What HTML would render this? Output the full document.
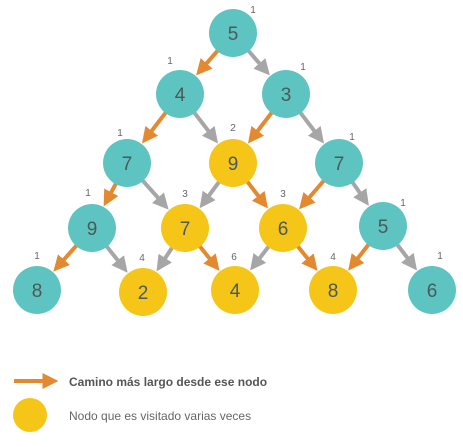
<!DOCTYPE html>
<html><head><meta charset="utf-8"><style>
body{margin:0;background:#fff;width:463px;height:442px;overflow:hidden;font-family:"Liberation Sans",sans-serif}
</style></head><body>
<svg id="c" width="463" height="442">
<defs>
<marker id="ao" markerWidth="4" markerHeight="4" refX="2.4" refY="2" orient="auto" markerUnits="strokeWidth"><path d="M0,0 L4,2 L0,4 z" fill="#e38a30"/></marker>
<marker id="ag" markerWidth="4" markerHeight="4" refX="2.4" refY="2" orient="auto" markerUnits="strokeWidth"><path d="M0,0 L4,2 L0,4 z" fill="#a6a6a6"/></marker>
</defs>
<g id="edges"></g><g id="nodes"></g>
<g>
<line x1="14" y1="381" x2="52" y2="381" stroke="#e38a30" stroke-width="4" marker-end="url(#ao)"/>
<text x="69" y="386" font-size="12" font-weight="bold" fill="#555">Camino más largo desde ese nodo</text>
<circle cx="30" cy="415" r="17" fill="#f5c518"/>
<text x="69" y="420" font-size="12" fill="#666">Nodo que es visitado varias veces</text>
</g>
</svg>
<script>
const values=[[5],[4,3],[7,9,7],[9,7,6,5],[8,2,4,8,6]];
const counts=[[1],[1,1],[1,2,1],[1,3,3,1],[1,4,6,4,1]];
const visited=[[0],[0,0],[0,1,0],[0,1,1,0],[0,1,1,1,0]];
const best=[[0],[0,0],[0,1,0],[0,1,1,0],[]];
const P=[[[233,33]],[[180,94],[286,94]],[[127,163],[233,163],[339,163]],[[92,228],[185,228],[283,228],[383,226]],[[37,290],[143,292],[235,290],[333,290],[432,290]]];
const L=[[[253,13]],[[170,64],[303,70]],[[120,136],[233,131],[352,140]],[[88,196],[185,197],[283,197],[403,206]],[[37,259],[142,261],[234,260],[333,260],[440,259]]];
const R=24,ns="http://www.w3.org/2000/svg";
const E=document.getElementById('edges'),N=document.getElementById('nodes');
for(let r=0;r<4;r++)for(let i=0;i<values[r].length;i++)for(let d=0;d<2;d++){
 const a=P[r][i],b=P[r+1][i+d];const dx=b[0]-a[0],dy=b[1]-a[1],l=Math.hypot(dx,dy);
 const o=best[r][i]===d;const ln=document.createElementNS(ns,'line');
 ln.setAttribute('x1',a[0]+dx/l*(R-2));ln.setAttribute('y1',a[1]+dy/l*(R-2));
 ln.setAttribute('x2',b[0]-dx/l*(R+7));ln.setAttribute('y2',b[1]-dy/l*(R+7));
 ln.setAttribute('stroke',o?'#e38a30':'#a6a6a6');ln.setAttribute('stroke-width','4');
 ln.setAttribute('marker-end',o?'url(#ao)':'url(#ag)');
 
 
 E.appendChild(ln);}
for(let r=0;r<5;r++)for(let i=0;i<values[r].length;i++){
 const [x,y]=P[r][i];const c=document.createElementNS(ns,'circle');
 c.setAttribute('cx',x);c.setAttribute('cy',y);c.setAttribute('r',R);
 c.setAttribute('fill',visited[r][i]?'#f5c518':'#5ec4c1');
 
 
 N.appendChild(c);
 const t=document.createElementNS(ns,'text');t.setAttribute('x',x);t.setAttribute('y',y+7);
 t.setAttribute('text-anchor','middle');t.setAttribute('font-size','19');t.setAttribute('fill','#4a5a5a');
 t.textContent=values[r][i];
 
 
 N.appendChild(t);
 const k=document.createElementNS(ns,'text');k.setAttribute('x',L[r][i][0]);k.setAttribute('y',L[r][i][1]);
 k.setAttribute('text-anchor','middle');k.setAttribute('font-size','10');k.setAttribute('fill','#666');
 k.textContent=counts[r][i];
 
 
 N.appendChild(k);}
</script>
</body></html>
